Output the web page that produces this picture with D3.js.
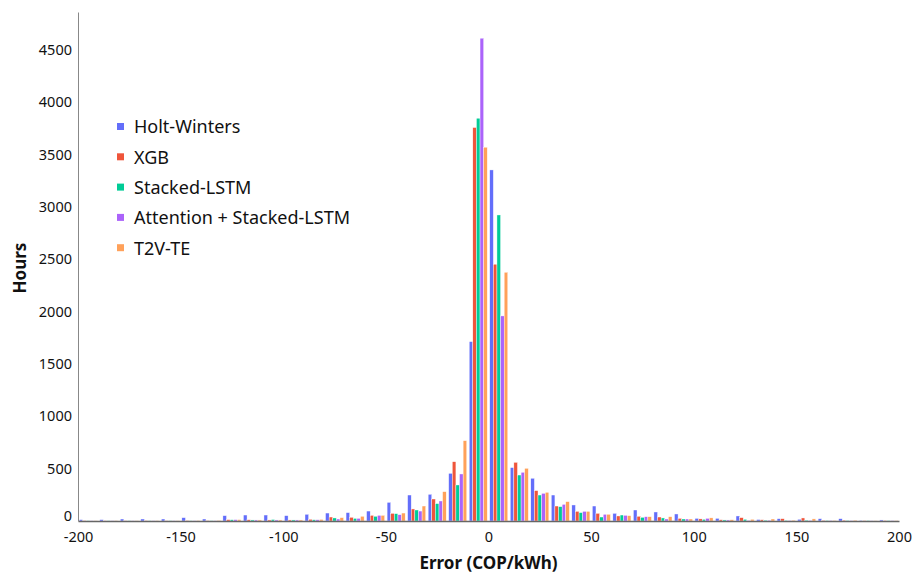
<!DOCTYPE html>
<html>
<head>
<meta charset="utf-8">
<script src="https://cdn.jsdelivr.net/npm/d3@7"></script>
<style>
  body { margin: 0; background: #fff; }
  text { font-family: "Noto Sans", sans-serif; fill: #111; }
</style>
</head>
<body>
<div id="chart"></div>
<script>
var width = 913, height = 574

// bin centres of the error histogram (bin width 10)
var bins = d3.range(-195, 200, 10)
var seriesNames = ['Holt-Winters','XGB','Stacked-LSTM','Attention + Stacked-LSTM','T2V-TE']
var colors = ['#636efa','#ef553b','#00cc96','#ab63fa','#ffa15a']

var holtWinters = [13,13,19,19,19,32,19,51,57,57,51,64,76,80,95,178,248,255,455,1713,3352,510,408,248,153,143,73,105,86,67,25,25,48,14,22,16,22,22,6,10]
var xgb         = [4,3,3,4,3,5,4,13,12,10,10,16,38,35,54,73,115,210,566,3757,2452,560,290,143,92,73,48,45,38,25,20,12,32,12,22,29,6,8,4,5]
var stackedLstm = [3,3,3,3,3,3,3,12,10,14,10,12,29,25,45,70,105,166,344,3846,2922,439,248,137,80,38,57,35,29,19,16,10,16,8,6,8,5,5,4,4]
var attention   = [3,3,3,3,3,3,3,13,10,10,10,12,19,25,54,60,95,191,449,4610,1958,465,264,159,92,64,54,41,19,19,25,10,6,8,5,6,5,4,3,4]
var t2vte       = [3,4,3,4,3,5,6,13,10,10,10,15,32,45,54,76,143,280,767,3569,2375,503,274,185,92,64,51,41,41,19,30,12,16,19,8,20,5,8,3,4]

var xTicks = [-200,-150,-100,-50,0,50,100,150,200]
var yTicks = [0,500,1000,1500,2000,2500,3000,3500,4000,4500]

var allSeries = [holtWinters, xgb, stackedLstm, attention, t2vte]

var mLeft = 78, mRight = 899, mTop = 12, mBottom = 521

var svg = d3.select('#chart')
  .append('svg')
  .attr('width', width)
  .attr('height', height)

var x = d3.scaleLinear().domain([-200,200]).range([mLeft,mRight])
var y = d3.scaleLinear().domain([0,4860]).range([mBottom,mTop])
var binPx = x(10) - x(0)
var inner = d3.scaleBand()
  .domain(seriesNames)
  .range([-binPx*0.44, binPx*0.44])
  .paddingInner(0)

// bars
allSeries.forEach(function(vals, s){
  svg.append('g')
    .selectAll('rect')
    .data(vals)
    .enter()
    .append('rect')
    .attr('x', function(d,i){ return x(bins[i]) + inner(seriesNames[s]) })
    .attr('width', inner.bandwidth())
    .attr('y', function(d){ return y(d) })
    .attr('height', function(d){ return mBottom - y(d) })
    .attr('fill', colors[s])
    .attr('stroke', '#fff')
    .attr('stroke-width', 0.4)
})

// axes
var axisX = svg.append('g')
  .attr('transform', `translate(0,${mBottom})`)
  .call(d3.axisBottom(x).tickValues(xTicks).tickSize(0).tickPadding(11).tickFormat(function(d){ return d < 0 ? '-' + Math.abs(d) : d }))
axisX.select('.domain').attr('stroke','#666').attr('stroke-width',1.5)
axisX.selectAll('text').style('font-size','14.5px').style('font-family','"Noto Sans", sans-serif').attr('fill','#111')

var axisY = svg.append('g')
  .attr('transform', `translate(${mLeft},0)`)
  .call(d3.axisLeft(y).tickValues(yTicks).tickSize(0).tickPadding(6).tickFormat(d3.format('d')))
axisY.select('.domain').attr('stroke','#888').attr('stroke-width',1)
axisY.selectAll('text').style('font-size','14.5px').style('font-family','"Noto Sans", sans-serif').attr('fill','#111')
// lift the zero label a little so it clears the x tick labels
axisY.selectAll('.tick').filter(function(d){ return d === 0 }).select('text').attr('dy','-0.05em')

// axis titles
svg.append('text')
  .attr('x', (mLeft+mRight)/2)
  .attr('y', 569)
  .attr('text-anchor','middle')
  .style('font-size','17px')
  .style('font-weight','bold')
  .text('Error (COP/kWh)')

svg.append('text')
  .attr('transform', 'translate(26,268) rotate(-90)')
  .attr('text-anchor','middle')
  .style('font-size','17px')
  .style('font-weight','bold')
  .text('Hours')

// legend
var legend = svg.append('g').attr('transform','translate(117,127)')
seriesNames.forEach(function(name, i){
  var g = legend.append('g').attr('transform', `translate(0,${i*30.3})`)
  g.append('rect')
    .attr('x', 0).attr('y', -4)
    .attr('width', 7).attr('height', 7)
    .attr('fill', colors[i])
  g.append('text')
    .attr('x', 17).attr('y', 0)
    .attr('dy', '0.35em')
    .style('font-size','18px')
    .text(name)
})
</script>
</body>
</html>
